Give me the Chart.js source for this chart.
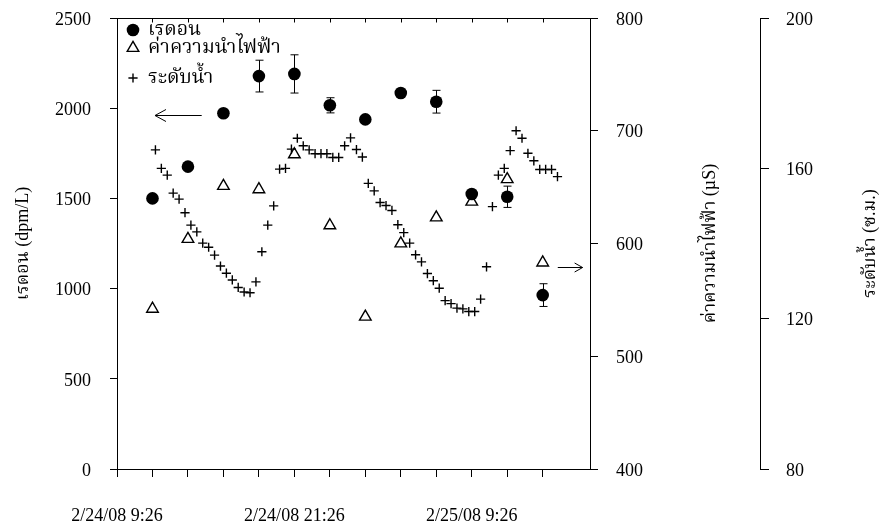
<!DOCTYPE html>
<html>
<head>
<meta charset="utf-8">
<script src="https://cdn.jsdelivr.net/npm/chart.js@4/dist/chart.umd.min.js"></script>
<style>
  html, body { margin: 0; padding: 0; background: #fff; }
</style>
</head>
<body>
<canvas id="chart" width="879" height="526"></canvas>
<script>
// Hours after 2/24/08 9:26 at which radon and conductivity were sampled
const sampleHours = [2.4, 4.8, 7.2, 9.6, 12.0, 14.4, 16.8, 19.2, 21.6, 24.0, 26.4, 28.8];
// Radon (dpm/L) and its uncertainty
const radon = [1500, 1676, 1972, 2178, 2190, 2016, 1938, 2084, 2036, 1524, 1509, 964];
const radonErr = [0, 0, 0, 88, 106, 42, 0, 0, 63, 0, 59, 63];
// Electrical conductivity (µS)
const conductivity = [542, 604, 651, 648, 679, 616, 535, 600, 623, 637, 657, 583];
// Water level logger readings (hours after start, cm)
const levelHours = [2.6, 3.0, 3.4, 3.8, 4.2, 4.6, 5.0, 5.4, 5.8, 6.2, 6.6, 7.0, 7.4, 7.8, 8.2, 8.6, 9.0, 9.4, 9.8, 10.2,
  10.6, 11.0, 11.4, 11.8, 12.2, 12.6, 13.0, 13.4, 13.8, 14.2, 14.6, 15.0, 15.4, 15.8, 16.2, 16.6, 17.0, 17.4, 17.8, 18.2,
  18.6, 19.0, 19.4, 19.8, 20.2, 20.6, 21.0, 21.4, 21.8, 22.2, 22.6, 23.0, 23.4, 23.8, 24.2, 24.6, 25.0, 25.4, 25.8, 26.2,
  26.6, 27.0, 27.4, 27.8, 28.2, 28.6, 29.0, 29.4, 29.8];
const waterLevel = [164.9, 160.0, 158.2, 153.4, 151.8, 148.2, 144.9, 143.1, 140.1, 139.0,
  136.9, 134.0, 132.1, 130.3, 128.3, 127.1, 126.9, 129.8, 137.8, 144.9,
  150.0, 159.8, 160.0, 165.1, 168.0, 166.0, 164.9, 163.9, 163.9, 163.9,
  162.9, 162.9, 166.0, 168.1, 165.0, 163.0, 156.0, 154.0, 150.9, 150.1,
  148.8, 145.0, 142.9, 140.1, 137.0, 135.1, 132.0, 130.1, 128.1, 124.8,
  124.0, 122.8, 122.6, 121.9, 121.9, 125.2, 133.8, 149.8, 158.2, 160.0,
  164.7, 170.0, 168.0, 164.0, 162.0, 159.7, 159.7, 159.7, 157.8];

// Series names and axis titles
const seriesNames = ['เรดอน', 'ค่าความนำไฟฟ้า', 'ระดับน้ำ'];
const axisTitles = ['เรดอน (dpm/L)', 'ค่าความนำไฟฟ้า (µS)', 'ระดับน้ำ (ซ.ม.)'];

// Arrows pointing each series at its axis: [x from, x to, value, axis, head side]
const arrowNotes = [
  [2.57, 5.73, 1962, 'y', 'left'],
  [29.82, 31.5, 579, 'y1', 'right']
];

// time axis: 0 to 32 h, ticks every 2.4 h up to 28.8 h, a date label every 12 h
const TIME_MAX = 32;
const TIME_STEP = 2.4;
const LAST_TICK = 28.8;

const START = new Date(2008, 1, 24, 9, 26);
function stamp(h) {
  const d = new Date(START.getTime() + Math.round(h * 60) * 60000);
  return (d.getMonth() + 1) + '/' + d.getDate() + '/' + String(d.getFullYear()).slice(2) + ' ' +
    d.getHours() + ':' + String(d.getMinutes()).padStart(2, '0');
}

const SERIF = "'Liberation Serif', 'Times New Roman', 'Noto Serif Thai', Norasi, Kinnari, serif";
const INK = '#000';

const pts = (xs, ys) => xs.map((x, i) => ({ x, y: ys[i] }));

const styles = {
  radon: { pointStyle: 'circle', radius: 6.3, backgroundColor: INK, borderColor: INK, borderWidth: 0 },
  ec: { pointStyle: 'triangle', radius: 6.7, backgroundColor: 'rgba(0,0,0,0)', borderColor: INK, borderWidth: 1.4 },
  level: { pointStyle: 'cross', radius: 4.6, backgroundColor: INK, borderColor: INK, borderWidth: 1.4 }
};

const extras = {
  id: 'extras',
  beforeDatasetsDraw(chart) {
    // error bars on radon
    const { ctx, scales: { x, y } } = chart;
    ctx.save();
    ctx.strokeStyle = INK;
    ctx.lineWidth = 1;
    radonErr.forEach((e, i) => {
      if (!e) return;
      const px = Math.round(x.getPixelForValue(sampleHours[i])) + 0.5;
      const top = y.getPixelForValue(radon[i] + e);
      const bot = y.getPixelForValue(radon[i] - e);
      ctx.beginPath();
      ctx.moveTo(px, top); ctx.lineTo(px, bot);
      ctx.moveTo(px - 4, top); ctx.lineTo(px + 4, top);
      ctx.moveTo(px - 4, bot); ctx.lineTo(px + 4, bot);
      ctx.stroke();
    });
    ctx.restore();
  },
  afterDraw(chart) {
    const { ctx, chartArea: area, scales } = chart;
    const x = scales.x;
    ctx.save();
    ctx.strokeStyle = INK;
    ctx.fillStyle = INK;
    ctx.lineWidth = 1;

    // top frame with inward ticks
    const topY = Math.round(area.top) + 0.5;
    ctx.beginPath();
    ctx.moveTo(area.left, topY); ctx.lineTo(area.right, topY);
    x.ticks.forEach(t => {
      const px = Math.round(x.getPixelForValue(t.value)) + 0.5;
      ctx.moveTo(px, topY); ctx.lineTo(px, topY + 4);
    });
    ctx.stroke();

    // axis titles, all reading bottom to top
    ctx.font = '18px ' + SERIF;
    ctx.textAlign = 'center';
    ctx.textBaseline = 'middle';
    const midY = (area.top + area.bottom) / 2;
    const titleX = [scales.y.left + 23, scales.y1.left + 120, scales.y2.left + 110];
    axisTitles.forEach((t, i) => {
      ctx.save();
      ctx.translate(titleX[i], midY);
      ctx.rotate(-Math.PI / 2);
      ctx.fillText(t, 0, 0);
      ctx.restore();
    });

    // legend in the upper-left corner of the plot
    const ds = chart.data.datasets;
    const rowY = [12, 30, 60];
    ctx.font = '19.5px ' + SERIF;
    ctx.textAlign = 'left';
    ds.forEach((d, i) => {
      const mx = area.left + 16, my = area.top + rowY[i];
      ctx.fillStyle = d.backgroundColor;
      ctx.strokeStyle = d.borderColor;
      ctx.lineWidth = d.borderWidth;
      Chart.helpers.drawPoint(ctx, {
        pointStyle: d.pointStyle, radius: d.pointRadius, borderWidth: d.borderWidth
      }, mx, my);
      ctx.fillStyle = INK;
      ctx.fillText(seriesNames[i], area.left + 31, my);
    });

    // arrows
    ctx.strokeStyle = INK;
    ctx.lineWidth = 1;
    arrowNotes.forEach(([x0, x1, v, axis, side]) => {
      const py = Math.round(scales[axis].getPixelForValue(v)) + 0.5;
      const a = x.getPixelForValue(x0), b = x.getPixelForValue(x1);
      const tip = side === 'left' ? a : b;
      const dir = side === 'left' ? 1 : -1;
      const len = side === 'left' ? 11 : 8, half = side === 'left' ? 6 : 4.5;
      ctx.beginPath();
      ctx.moveTo(a, py); ctx.lineTo(b, py);
      ctx.moveTo(tip + dir * len, py - half); ctx.lineTo(tip, py); ctx.lineTo(tip + dir * len, py + half);
      ctx.stroke();
    });
    ctx.restore();
  }
};

const tickFont = { family: SERIF, size: 18 };
const axisGrid = (len) => ({ drawOnChartArea: false, drawTicks: true, tickLength: len, color: INK, lineWidth: 1 });
const axisBorder = { display: true, color: INK, width: 1 };
const plain = v => String(v);
// vertical axes: fixed box width, and only half a label of overhang above/below
const fitSide = w => s => { s.width = w; s.paddingTop = 10; s.paddingBottom = 10; };

new Chart(document.getElementById('chart'), {
  type: 'scatter',
  data: {
    datasets: [
      { label: seriesNames[0], data: pts(sampleHours, radon), yAxisID: 'y',
        pointStyle: styles.radon.pointStyle, pointRadius: styles.radon.radius,
        backgroundColor: styles.radon.backgroundColor, borderColor: styles.radon.borderColor, borderWidth: styles.radon.borderWidth },
      { label: seriesNames[1], data: pts(sampleHours, conductivity), yAxisID: 'y1',
        pointStyle: styles.ec.pointStyle, pointRadius: styles.ec.radius,
        backgroundColor: styles.ec.backgroundColor, borderColor: styles.ec.borderColor, borderWidth: styles.ec.borderWidth },
      { label: seriesNames[2], data: pts(levelHours, waterLevel), yAxisID: 'y2',
        pointStyle: styles.level.pointStyle, pointRadius: styles.level.radius,
        backgroundColor: styles.level.backgroundColor, borderColor: styles.level.borderColor, borderWidth: styles.level.borderWidth }
    ]
  },
  options: {
    responsive: false,
    animation: false,
    events: [],
    devicePixelRatio: 1,
    layout: { padding: { top: 18, left: 0, right: 0, bottom: 0 } },
    plugins: { legend: { display: false }, tooltip: { enabled: false } },
    scales: {
      x: {
        type: 'linear', position: 'bottom', min: 0, max: TIME_MAX,
        grid: axisGrid(8), border: axisBorder,
        ticks: {
          stepSize: TIME_STEP, includeBounds: false, autoSkip: false, maxRotation: 0, minRotation: 0,
          color: INK, font: tickFont, padding: 28,
          callback: (v, i) => (i % 5 === 0 ? stamp(v) : '')
        },
        afterBuildTicks: s => { s.ticks = s.ticks.filter(t => t.value <= LAST_TICK + 1e-6); },
        afterFit: s => { s.height = 57; }
      },
      y: {
        type: 'linear', position: 'left', min: 0, max: 2500,
        grid: axisGrid(7), border: axisBorder,
        ticks: { stepSize: 500, color: INK, font: tickFont, padding: 19, labelOffset: 2, callback: plain },
        afterFit: fitSide(117)
      },
      y1: {
        type: 'linear', position: 'right', min: 400, max: 800,
        grid: axisGrid(8), border: axisBorder,
        ticks: { stepSize: 100, color: INK, font: tickFont, padding: 18, labelOffset: 2, callback: plain },
        afterFit: fitSide(170)
      },
      y2: {
        type: 'linear', position: 'right', min: 80, max: 200,
        grid: axisGrid(9), border: axisBorder,
        ticks: { stepSize: 40, color: INK, font: tickFont, padding: 17, labelOffset: 2, callback: plain },
        afterFit: fitSide(119)
      }
    }
  },
  plugins: [extras]
});
</script>
</body>
</html>
